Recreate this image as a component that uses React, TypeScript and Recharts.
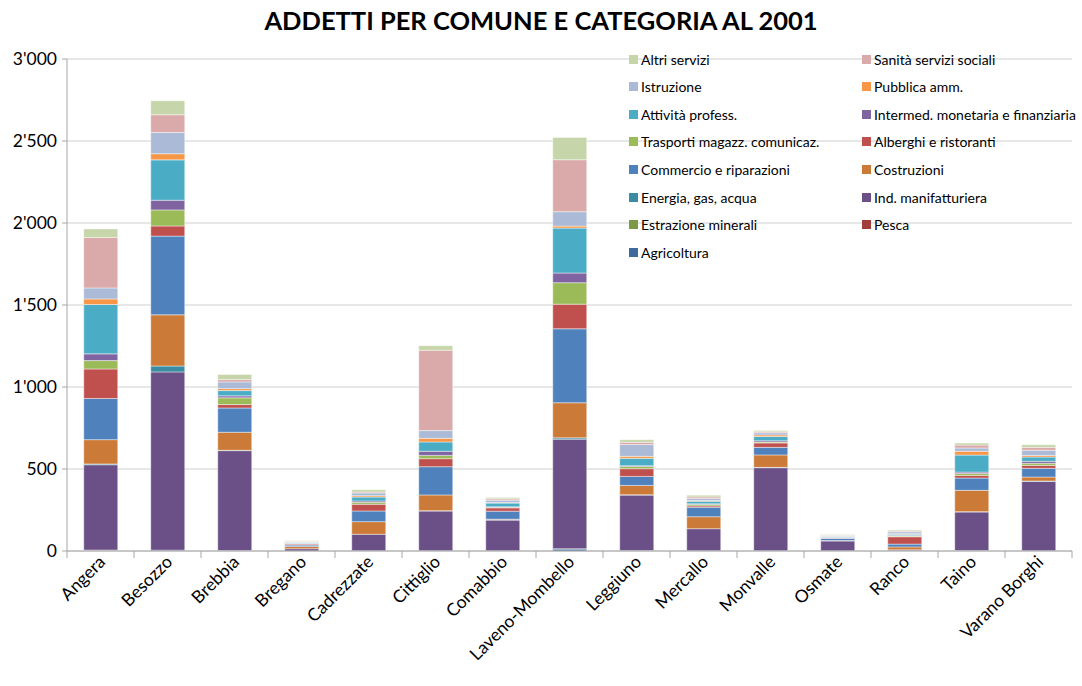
import { Bar, BarChart, CartesianGrid, XAxis, YAxis } from "recharts";

const comuni = [
  "Angera",
  "Besozzo",
  "Brebbia",
  "Bregano",
  "Cadrezzate",
  "Cittiglio",
  "Comabbio",
  "Laveno-Mombello",
  "Leggiuno",
  "Mercallo",
  "Monvalle",
  "Osmate",
  "Ranco",
  "Taino",
  "Varano Borghi",
];

// values, one per comune
const agricoltura = [4, 5, 3, 0, 2, 2, 2, 12, 3, 2, 2, 1, 1, 3, 2];
const pesca = [2, 0, 0, 0, 0, 0, 0, 2, 0, 0, 0, 0, 0, 0, 0];
const estrazione = [0, 0, 0, 0, 0, 0, 0, 0, 0, 0, 0, 0, 0, 0, 0];
const indManif = [520, 1087, 609, 14, 100, 242, 187, 668, 338, 134, 506, 60, 6, 235, 423];
const energia = [5, 36, 2, 0, 0, 2, 1, 8, 2, 0, 2, 0, 0, 2, 2];
const costruzioni = [148, 312, 110, 14, 77, 96, 4, 214, 57, 73, 76, 3, 18, 130, 24];
const commercio = [251, 480, 148, 8, 65, 172, 49, 451, 55, 58, 46, 13, 17, 75, 53];
const alberghi = [180, 62, 21, 6, 41, 49, 20, 150, 47, 8, 27, 3, 45, 16, 18];
const trasporti = [51, 98, 41, 3, 12, 20, 4, 131, 14, 8, 5, 3, 4, 12, 13];
const intermed = [41, 59, 12, 1, 8, 25, 3, 59, 4, 5, 8, 1, 3, 8, 12];
const attivita = [301, 246, 32, 4, 24, 57, 22, 274, 45, 15, 26, 5, 8, 104, 26];
const pubblica = [34, 37, 12, 2, 8, 22, 4, 12, 12, 5, 10, 1, 3, 23, 10];
const istruzione = [67, 130, 41, 4, 17, 47, 14, 88, 72, 12, 13, 5, 12, 20, 31];
const sanita = [308, 108, 14, 3, 6, 490, 8, 317, 14, 10, 6, 2, 5, 18, 18];
const altri = [52, 85, 31, 3, 14, 28, 8, 136, 16, 10, 8, 3, 6, 12, 16];

const yTicks = [0, 500, 1000, 1500, 2000, 2500, 3000];

// bottom to top
const series = [
  { key: "agricoltura", name: "Agricoltura", color: "#3E6A9E", values: agricoltura },
  { key: "pesca", name: "Pesca", color: "#9F3E3B", values: pesca },
  { key: "estrazione", name: "Estrazione minerali", color: "#7C9A45", values: estrazione },
  { key: "indManif", name: "Ind. manifatturiera", color: "#6A5086", values: indManif },
  { key: "energia", name: "Energia, gas, acqua", color: "#3B8CA3", values: energia },
  { key: "costruzioni", name: "Costruzioni", color: "#CC7A38", values: costruzioni },
  { key: "commercio", name: "Commercio e riparazioni", color: "#4F81BD", values: commercio },
  { key: "alberghi", name: "Alberghi e ristoranti", color: "#C0504D", values: alberghi },
  { key: "trasporti", name: "Trasporti magazz. comunicaz.", color: "#9BBB59", values: trasporti },
  { key: "intermed", name: "Intermed. monetaria e finanziaria", color: "#8064A2", values: intermed },
  { key: "attivita", name: "Attività profess.", color: "#4BACC6", values: attivita },
  { key: "pubblica", name: "Pubblica amm.", color: "#F79646", values: pubblica },
  { key: "istruzione", name: "Istruzione", color: "#AABAD7", values: istruzione },
  { key: "sanita", name: "Sanità servizi sociali", color: "#D9AAA9", values: sanita },
  { key: "altri", name: "Altri servizi", color: "#C6D6AA", values: altri },
];

const data = comuni.map((c, i) => {
  const row: Record<string, string | number> = { comune: c };
  series.forEach((s) => (row[s.key] = s.values[i]));
  return row;
});

const W = 1082;
const H = 686;
const LEFT = 67;
const RIGHT = 10;
const HALF_BAND = (W - LEFT - RIGHT) / comuni.length / 2;
const FONT = "Lato, 'Open Sans', sans-serif";

const fmt = (v: number) => {
  const s = String(v);
  return v >= 1000 ? s.slice(0, -3) + "'" + s.slice(-3) : s;
};

function XTick(props: any) {
  const { x, y, payload, index } = props;
  const last = index === comuni.length - 1;
  return (
    <g>
      <line x1={x - HALF_BAND} x2={x - HALF_BAND} y1={y} y2={y + 7} stroke="#A6A6A6" />
      {last && <line x1={x + HALF_BAND} x2={x + HALF_BAND} y1={y} y2={y + 7} stroke="#A6A6A6" />}
      <text
        x={x + 6}
        y={y + 12}
        textAnchor="end"
        fontSize={17.5}
        fontFamily={FONT}
        fill="#000"
        transform={`rotate(-45 ${x + 6} ${y + 12})`}
      >
        {payload.value}
      </text>
    </g>
  );
}

export default function App() {
  const legendItems = [...series].reverse();
  return (
    <div style={{ position: "absolute", left: 0, top: 0, width: W, height: H, background: "#fff" }}>
      <div
        style={{
          position: "absolute",
          top: 5,
          left: 0,
          width: W,
          textAlign: "center",
          fontFamily: FONT,
          fontWeight: 700,
          fontSize: 25.5,
          color: "#000",
        }}
      >
        ADDETTI PER COMUNE E CATEGORIA AL 2001
      </div>
      <BarChart
        width={W}
        height={H}
        data={data}
        margin={{ top: 59, right: RIGHT, left: 0, bottom: 0 }}
        barCategoryGap="25%"
      >
        <CartesianGrid vertical={false} stroke="#CFCFCF" />
        <XAxis
          dataKey="comune"
          height={135}
          interval={0}
          tickSize={0}
          tickMargin={0}
          tickLine={false}
          axisLine={{ stroke: "#A6A6A6" }}
          tick={<XTick />}
        />
        <YAxis
          width={LEFT}
          domain={[0, 3000]}
          ticks={yTicks}
          tickFormatter={fmt}
          tickSize={5}
          tickMargin={5}
          axisLine={{ stroke: "#A6A6A6" }}
          tickLine={{ stroke: "#A6A6A6" }}
          tick={{ fontSize: 17.5, fontFamily: FONT, fill: "#000" }}
        />
        {series.map((s) => (
          <Bar
            key={s.key}
            dataKey={s.key}
            name={s.name}
            stackId="a"
            fill={s.color}
            stroke="#ffffff"
            strokeOpacity={0.55}
            strokeWidth={0.8}
            isAnimationActive={false}
          />
        ))}
      </BarChart>
      {legendItems.map((s, i) => {
        const col = i % 2;
        const row = Math.floor(i / 2);
        return (
          <div
            key={s.key}
            style={{
              position: "absolute",
              left: col === 0 ? 629 : 862,
              top: 59 + row * 27.6 - 9,
              height: 18,
              display: "flex",
              alignItems: "center",
              fontFamily: FONT,
              fontSize: 14,
              color: "#000",
              whiteSpace: "nowrap",
            }}
          >
            <span style={{ width: 9, height: 9, background: s.color, marginRight: 3, display: "inline-block" }} />
            {s.name}
          </div>
        );
      })}
    </div>
  );
}
